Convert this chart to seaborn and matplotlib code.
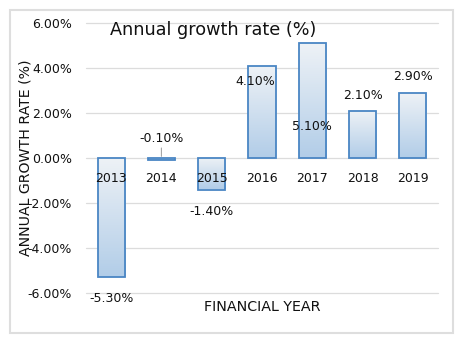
import numpy as np
import pandas as pd
import matplotlib
matplotlib.use("Agg")
import matplotlib.pyplot as plt
import seaborn as sns
from matplotlib.colors import LinearSegmentedColormap
from matplotlib.patches import Rectangle

years = ["2013", "2014", "2015", "2016", "2017", "2018", "2019"]
growth = [-5.3, -0.1, -1.4, 4.1, 5.1, 2.1, 2.9]
value_labels = ["-5.30%", "-0.10%", "-1.40%", "4.10%", "5.10%", "2.10%", "2.90%"]
y_ticks = [-6, -4, -2, 0, 2, 4, 6]
y_tick_labels = ["-6.00%", "-4.00%", "-2.00%", "0.00%", "2.00%", "4.00%", "6.00%"]
title = "Annual growth rate (%)"
x_title = "FINANCIAL YEAR"
y_title = "ANNUAL GROWTH RATE (%)"

# label offsets in points (dx, dy) relative to bar end
label_offsets = [(0, -15), (0, 16), (0, -15.5), (-5, -11), (0, -60), (0, 11), (0, 11.5)]

sns.set_theme(style="white")
plt.rcParams["font.family"] = ["DejaVu Sans"]
TXT = "#111111"

fig = plt.figure(figsize=(4.64, 3.44), dpi=100)
fig.patch.set_facecolor("white")
fig.patches.append(Rectangle((10 / 464, 1 - 333 / 344), 443 / 464, 323 / 344,
                             transform=fig.transFigure, fill=False,
                             edgecolor="#dedede", linewidth=1.5))
ax = fig.add_axes([86 / 464, 1 - 293 / 344, 352 / 464, 270 / 344])

df = pd.DataFrame({"year": years, "growth": growth})
sns.barplot(data=df, x="year", y="growth", ax=ax, width=0.54,
            color="#c8dbee", edgecolor="#4a86c4", linewidth=1.3, zorder=2)

cmap = LinearSegmentedColormap.from_list("g", ["#b2cde8", "#eef2f6"])
grad = np.linspace(0, 1, 100).reshape(-1, 1)
for p in ax.patches:
    x0, y0 = p.get_x(), p.get_y()
    w, h = p.get_width(), p.get_height()
    lo, hi = min(y0, y0 + h), max(y0, y0 + h)
    im = ax.imshow(grad, extent=[x0, x0 + w, lo, hi], origin="lower",
                   cmap=cmap, aspect="auto", zorder=1.9)
    im.set_clip_path(p)
    p.set_facecolor("none")

ax.set_xlim(-0.5, len(years) - 0.5)
ax.set_ylim(-6, 6)
for t in y_ticks:
    ax.axhline(t, color="#dcdcdc", linewidth=0.9, zorder=0.5, clip_on=False)

ax.set_yticks(y_ticks)
ax.set_yticklabels(y_tick_labels, fontsize=9, color=TXT)
ax.tick_params(axis="y", length=0, pad=10)
ax.tick_params(axis="x", length=0, pad=10, labelsize=9, labelcolor=TXT)
for s in ax.spines.values():
    s.set_visible(False)
ax.spines["bottom"].set_position(("data", 0))
ax.xaxis.set_zorder(5)

ax.set_xlabel(x_title, fontsize=10.3, color=TXT)
ax.xaxis.set_label_coords(0.5, -0.025)
ax.set_ylabel(y_title, fontsize=10.2, color=TXT)
ax.yaxis.set_label_coords(-0.153, 0.5)

ax.text(0.36, 0.974, title, transform=ax.transAxes, fontsize=12.7,
        color=TXT, ha="center", va="center", zorder=6)

for i, (v, lab, (dx, dy)) in enumerate(zip(growth, value_labels, label_offsets)):
    ax.annotate(lab, xy=(i, v), xytext=(dx, dy), textcoords="offset points",
                ha="center", va="center", fontsize=9, color=TXT, zorder=6)
# leader line for the small 2014 bar
ax.annotate("", xy=(1, growth[1] + 0.05), xytext=(0, 10), textcoords="offset points",
            arrowprops=dict(arrowstyle="-", color="#a6a6a6", lw=0.8),
            xycoords="data")

fig.savefig("out.png", dpi=100)
